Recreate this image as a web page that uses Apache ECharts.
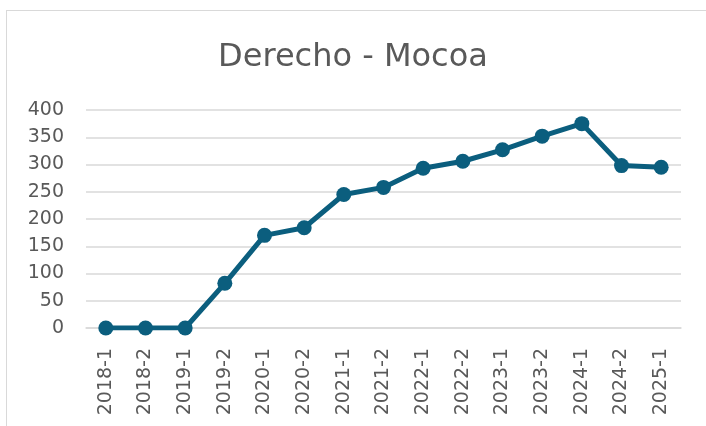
<!DOCTYPE html>
<html><head><meta charset="utf-8">
<script src="https://cdn.jsdelivr.net/npm/echarts@6/dist/echarts.min.js"></script>
<style>
html,body{margin:0;padding:0;background:#fff;}
#frame{position:absolute;left:6px;top:10px;width:720px;height:430px;border:1px solid #d9d9d9;box-sizing:border-box;}
#c{position:absolute;left:0;top:0;width:706px;height:426px;}
</style></head>
<body><div id="frame"></div><div id="c"></div>
<script>
const titleText = 'Derecho - Mocoa';
const categories = ['2018-1','2018-2','2019-1','2019-2','2020-1','2020-2','2021-1','2021-2','2022-1','2022-2','2023-1','2023-2','2024-1','2024-2','2025-1'];
const values = [0,0,0,82,170,184,245,258,293,306,327,352,375,298,295];
const chart = echarts.init(document.getElementById('c'));
chart.setOption({
  animation:false,
  title:{text:titleText,left:'center',top:37,textStyle:{fontFamily:'DejaVu Sans',fontSize:32,fontWeight:'normal',color:'#595959'}},
  grid:{left:86,right:25,top:110,bottom:98},
  xAxis:{type:'category',data:categories,boundaryGap:true,
    axisLine:{show:true,lineStyle:{color:'#d9d9d9',width:1.5}},axisTick:{show:false},
    axisLabel:{rotate:90,margin:20,color:'#595959',fontSize:19,fontFamily:'DejaVu Sans'}},
  yAxis:{type:'value',min:0,max:400,interval:50,
    axisLine:{show:false},axisTick:{show:false},
    splitLine:{lineStyle:{color:'#d9d9d9',width:1.5}},
    axisLabel:{margin:22,color:'#595959',fontSize:19,fontFamily:'DejaVu Sans'}},
  series:[{type:'line',data:values,symbol:'circle',symbolSize:15,
    lineStyle:{color:'#0b5e7e',width:5},itemStyle:{color:'#0b5e7e'}}]
});
</script></body></html>
